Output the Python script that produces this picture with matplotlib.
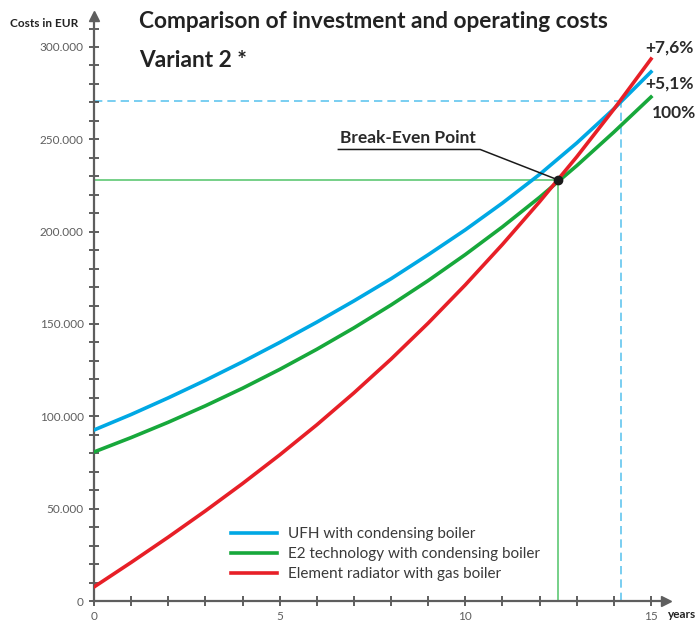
import matplotlib.pyplot as plt
from matplotlib.ticker import MultipleLocator, FuncFormatter

plt.rcParams['font.family'] = ['Lato', 'DejaVu Sans']

years = list(range(16))
# Costs in EUR, one value per year
ufh = [92600, 101000, 110000, 119500, 129500, 140000, 151000, 162500,
       174500, 187500, 201000, 215500, 231000, 248000, 266500, 286500]
e2 = [80700, 88500, 96800, 105700, 115200, 125400, 136300, 147900,
      160300, 173500, 187600, 202600, 218600, 235700, 253900, 272900]
radiator = [7600, 20900, 34600, 48800, 63600, 79100, 95400, 112700,
            131000, 150500, 171200, 193100, 216200, 240500, 266300, 293500]

names = ['UFH with condensing boiler',
         'E2 technology with condensing boiler',
         'Element radiator with gas boiler']
end_labels = ['+5,1%', '100%', '+7,6%']

breakeven_x, breakeven_y = 12.5, 228000
cross_x, cross_y = 14.2, 271000

c_blue = '#00a8e4'
c_green = '#17a83b'
c_red = '#e71f27'
grey = '#5e5e5e'

fig = plt.figure(figsize=(6.97, 6.21), dpi=100)
ax = fig.add_axes([0.1349, 0.0322, 0.8204, 0.9427])

# helper lines
ax.plot([0, breakeven_x], [breakeven_y, breakeven_y], color='#5fc874', lw=1.2, zorder=1)
ax.plot([breakeven_x, breakeven_x], [0, breakeven_y], color='#5fc874', lw=1.2, zorder=1)
ax.plot([0, cross_x], [cross_y, cross_y], color='#62c6ef', lw=1.2, ls=(0, (5, 3)), zorder=1)
ax.plot([cross_x, cross_x], [0, cross_y], color='#62c6ef', lw=1.2, ls=(0, (5, 3)), zorder=1)

ax.plot(years, ufh, color=c_blue, lw=2.6, label=names[0], zorder=3)
ax.plot(years, e2, color=c_green, lw=2.6, label=names[1], zorder=3)
ax.plot(years, radiator, color=c_red, lw=2.6, label=names[2], zorder=3)

# break-even marker and leader
ax.plot([breakeven_x], [breakeven_y], 'o', color='#1a1a1a', ms=6, zorder=5)
ax.plot([6.58, 10.4, breakeven_x], [244500, 244500, breakeven_y], color='#1a1a1a', lw=1.1, zorder=4)
ax.text(6.62, 246500, 'Break-Even Point', fontsize=12.5, fontweight='bold', color='#2a2a2a',
        ha='left', va='bottom')

ax.set_xlim(0, 15.4)
ax.set_ylim(0, 317000)

for s in ['top', 'right']:
    ax.spines[s].set_visible(False)
for s in ['left', 'bottom']:
    ax.spines[s].set_color(grey)
    ax.spines[s].set_linewidth(1.6)
ax.plot(1, 0, '>', color=grey, ms=7, transform=ax.transAxes, clip_on=False)
ax.plot(0, 1, '^', color=grey, ms=7, transform=ax.transAxes, clip_on=False)

ax.xaxis.set_major_locator(MultipleLocator(5))
ax.xaxis.set_minor_locator(MultipleLocator(1))
ax.yaxis.set_major_locator(MultipleLocator(50000))
ax.yaxis.set_minor_locator(MultipleLocator(10000))
ax.yaxis.set_major_formatter(FuncFormatter(lambda v, p: f'{int(v):,}'.replace(',', '.')))
ax.set_xticks([0, 5, 10, 15])
ax.set_yticks([0, 50000, 100000, 150000, 200000, 250000, 300000])
ax.tick_params(which='both', direction='inout', length=7, width=1.1, color='#333333',
               labelsize=8.5, labelcolor=grey)
ax.tick_params(axis='y', pad=4)
ax.tick_params(axis='x', pad=4)

leg = ax.legend(loc='lower left', bbox_to_anchor=(0.215, 0.01), frameon=False, fontsize=11,
                handlelength=3.0, handletextpad=0.75, labelspacing=0.4, labelcolor='#3a3a3a')

fig.text(0.014, 0.962, 'Costs in EUR', fontsize=8.5, fontweight='bold', color='#222222', va='center')
fig.text(0.958, 0.011, 'years', fontsize=8.5, fontweight='bold', color='#222222', va='center')
fig.text(0.2, 0.966, 'Comparison of investment and operating costs', fontsize=16.3,
         fontweight='bold', color='#222222', va='center')
fig.text(0.2, 0.903, 'Variant 2 *', fontsize=16.3, fontweight='bold', color='#222222', va='center')

fig.text(0.926, 0.924, end_labels[2], fontsize=12.5, fontweight='bold', color='#2a2a2a', va='center')
fig.text(0.926, 0.866, end_labels[0], fontsize=12.5, fontweight='bold', color='#2a2a2a', va='center')
fig.text(0.935, 0.818, end_labels[1], fontsize=12.5, fontweight='bold', color='#2a2a2a', va='center')

fig.savefig('out.png', dpi=100)
